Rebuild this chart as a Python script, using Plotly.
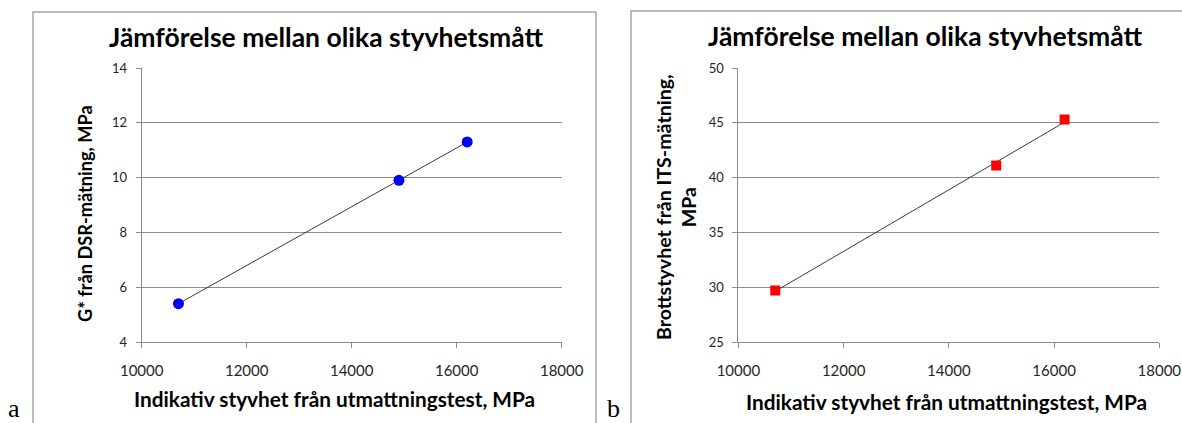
import numpy as np
import plotly.graph_objects as go

# Data
indikativ_styvhet = [10700, 14900, 16200]          # MPa, x for both panels
g_star_dsr = [5.4, 9.9, 11.3]                      # panel a
brottstyvhet_its = [29.7, 41.1, 45.3]              # panel b

title_text = "Jämförelse mellan olika styvhetsmått"
x_title = "Indikativ styvhet från utmattningstest, MPa"
y_title_a = "G* från DSR-mätning, MPa"
y_title_b = "Brottstyvhet från ITS-mätning,<br>MPa"

x_ticks = [10000, 12000, 14000, 16000, 18000]
y_ticks_a = [4, 6, 8, 10, 12, 14]
y_ticks_b = [25, 30, 35, 40, 45, 50]

W, H = 1182, 423
FONT = "Lato"


def px(x):
    return x / W


def py(y):
    return (H - y) / H


def trend(xs, ys):
    k, m = np.polyfit(xs, ys, 1)
    xe = [min(xs), max(xs)]
    return xe, [k * v + m for v in xe]


fig = go.Figure()

# Panel a
ta_x, ta_y = trend(indikativ_styvhet, g_star_dsr)
fig.add_trace(go.Scatter(x=ta_x, y=ta_y, mode="lines", line=dict(color="#3a3a3a", width=1),
                         xaxis="x", yaxis="y", showlegend=False, hoverinfo="skip"))
fig.add_trace(go.Scatter(x=indikativ_styvhet, y=g_star_dsr, mode="markers",
                         marker=dict(symbol="circle", size=11, color="#0000FF"),
                         xaxis="x", yaxis="y", showlegend=False))

# Panel b
tb_x, tb_y = trend(indikativ_styvhet, brottstyvhet_its)
fig.add_trace(go.Scatter(x=tb_x, y=tb_y, mode="lines", line=dict(color="#3a3a3a", width=1),
                         xaxis="x2", yaxis="y2", showlegend=False, hoverinfo="skip"))
fig.add_trace(go.Scatter(x=indikativ_styvhet, y=brottstyvhet_its, mode="markers",
                         marker=dict(symbol="square", size=10, color="#FF0000"),
                         xaxis="x2", yaxis="y2", showlegend=False))

grid = "#8c8c8c"
tickfont_x = dict(family=FONT, size=15, color="#262626")
tickfont_y = dict(family=FONT, size=13, color="#262626")

xcommon = dict(range=[10000, 18000], tickvals=x_ticks, tickformat="d", showgrid=False, showline=True,
               linecolor=grid, linewidth=1, ticks="outside", ticklen=5, tickcolor=grid,
               tickfont=tickfont_x, zeroline=False, ticklabelstandoff=10, automargin=False,
               ticklabeloverflow="allow")
ycommon = dict(showgrid=True, gridcolor=grid, gridwidth=1, showline=True,
               linecolor=grid, linewidth=1, ticks="outside", ticklen=5, tickcolor=grid,
               tickfont=tickfont_y, zeroline=False, ticklabelstandoff=6, automargin=False)

dom_y = [py(342), py(68)]
fig.update_layout(
    width=W, height=H,
    margin=dict(l=0, r=0, t=0, b=0),
    paper_bgcolor="white", plot_bgcolor="white",
    font=dict(family=FONT),
    xaxis=dict(domain=[px(141.7), px(561.7)], anchor="y", **xcommon),
    yaxis=dict(domain=dom_y, anchor="x", range=[4, 14], tickvals=y_ticks_a, **ycommon),
    xaxis2=dict(domain=[px(738.4), px(1159.3)], anchor="y2", **xcommon),
    yaxis2=dict(domain=dom_y, anchor="x2", range=[25, 50], tickvals=y_ticks_b, **ycommon),
)

frame_col = "#a6a6a6"
fig.add_shape(type="rect", xref="paper", yref="paper", x0=px(33), x1=px(596), y0=py(440), y1=py(12),
              line=dict(color=frame_col, width=1.5), layer="below")
fig.add_shape(type="rect", xref="paper", yref="paper", x0=px(631), x1=px(1200), y0=py(440), y1=py(11),
              line=dict(color=frame_col, width=1.5), layer="below")

ann = []
title_font = dict(family=FONT, size=26.5, color="#000000")
ann.append(dict(text="<b>%s</b>" % title_text, x=px(326), y=py(37), font=title_font))
ann.append(dict(text="<b>%s</b>" % title_text, x=px(925), y=py(36), font=title_font))
ann.append(dict(text="<b>%s</b>" % x_title, x=px(334), y=py(398), font=dict(family=FONT, size=20.8, color="#000")))
ann.append(dict(text="<b>%s</b>" % x_title, x=px(946), y=py(401), font=dict(family=FONT, size=20.8, color="#000")))
ann.append(dict(text="<b>%s</b>" % y_title_a, x=px(85), y=py(214), font=dict(family=FONT, size=18.2, color="#000"),
                textangle=-90))
ann.append(dict(text="<b>%s</b>" % y_title_b, x=px(676), y=py(207), font=dict(family=FONT, size=19.6, color="#000"),
                textangle=-90))
ann.append(dict(text="a", x=px(14), y=py(408), font=dict(family="Liberation Serif", size=26, color="#000")))
ann.append(dict(text="b", x=px(613), y=py(408), font=dict(family="Liberation Serif", size=26, color="#000")))
for a in ann:
    a.update(xref="paper", yref="paper", showarrow=False, xanchor="center", yanchor="middle")
fig.update_layout(annotations=ann)

fig.write_html(
    "out.html",
    config={"displayModeBar": False},
    post_script="document.body.style.margin='0';document.body.style.overflow='hidden';",
)
